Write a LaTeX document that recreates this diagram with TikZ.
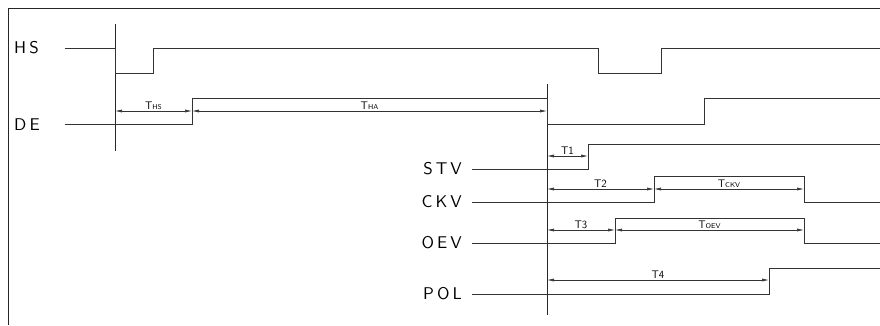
\documentclass[tikz,border=0pt]{standalone}
\usepackage{fontspec}
\usetikzlibrary{arrows.meta}
\newfontfamily\sigfont{lmsans10-regular.otf}[LetterSpace=18]
\newcommand{\Tsub}[1]{T{\fontsize{7}{7}\selectfont #1}}

\begin{document}
\begin{tikzpicture}[
  x=1pt, y=-1pt,
  wave/.style={
    draw=black!80,
    line width=0.9pt
    },
  guide/.style={
    draw=black!85,
    line width=0.9pt
    },
  dim/.style={
    draw=black!80,
    line width=0.6pt,
    {Latex[length=7pt,width=3pt]}-{Latex[length=7pt,width=3pt]}
    },
  siglabel/.style={
    font=\sigfont\fontsize{17}{17}\selectfont,
    inner sep=0pt
    },
  dimlabel/.style={
    font=\sffamily\fontsize{11}{11}\selectfont,
    inner sep=0pt,
    anchor=base,
    yshift=2pt
  }
]
\useasboundingbox (0,0) rectangle (880,325);

% frame
\draw[guide] (8,325) -- (8,8) -- (880,8);

% signal names
\node[siglabel, anchor=west] (hs)  at (14,48)  {HS};
\node[siglabel, anchor=west] (de)  at (14,125) {DE};
\node[siglabel, anchor=east] (stv) at (462,169) {STV};
\node[siglabel, anchor=east] (ckv) at (462,202) {CKV};
\node[siglabel, anchor=east] (oev) at (462,243) {OEV};
\node[siglabel, anchor=east] (pol) at (462,294) {POL};

% reference edges
\draw[guide] (115,24) -- (115,151);
\draw[guide] (547,84) -- (547,315);

% waveforms
\draw[wave] (65,48) -| (115,73) -| (153,48) -| (598,73) -| (661,48) -- (880,48);
\draw[wave] (65,124) -| (192,98) -| (547,124) -| (704,98) -- (880,98);
\draw[wave] (472,169) -| (588,144) -- (880,144);
\draw[wave] (472,202) -| (654,176) -| (804,202) -- (880,202);
\draw[wave] (472,243) -| (615,218) -| (804,243) -- (880,243);
\draw[wave] (472,294) -| (769,268) -- (880,268);

% timing dimensions
\foreach \xa/\xb/\yy/\txt in {115/192/111/{\Tsub{HS}}, 192/547/111/{\Tsub{HA}},
    547/588/156/T1, 547/654/189/T2, 654/804/189/{\Tsub{CKV}},
    547/615/230/T3, 615/804/230/{\Tsub{OEV}}, 547/769/280/T4}
  \draw[dim] (\xa,\yy) -- node[dimlabel] {\txt} (\xb,\yy);

\end{tikzpicture}
\end{document}
